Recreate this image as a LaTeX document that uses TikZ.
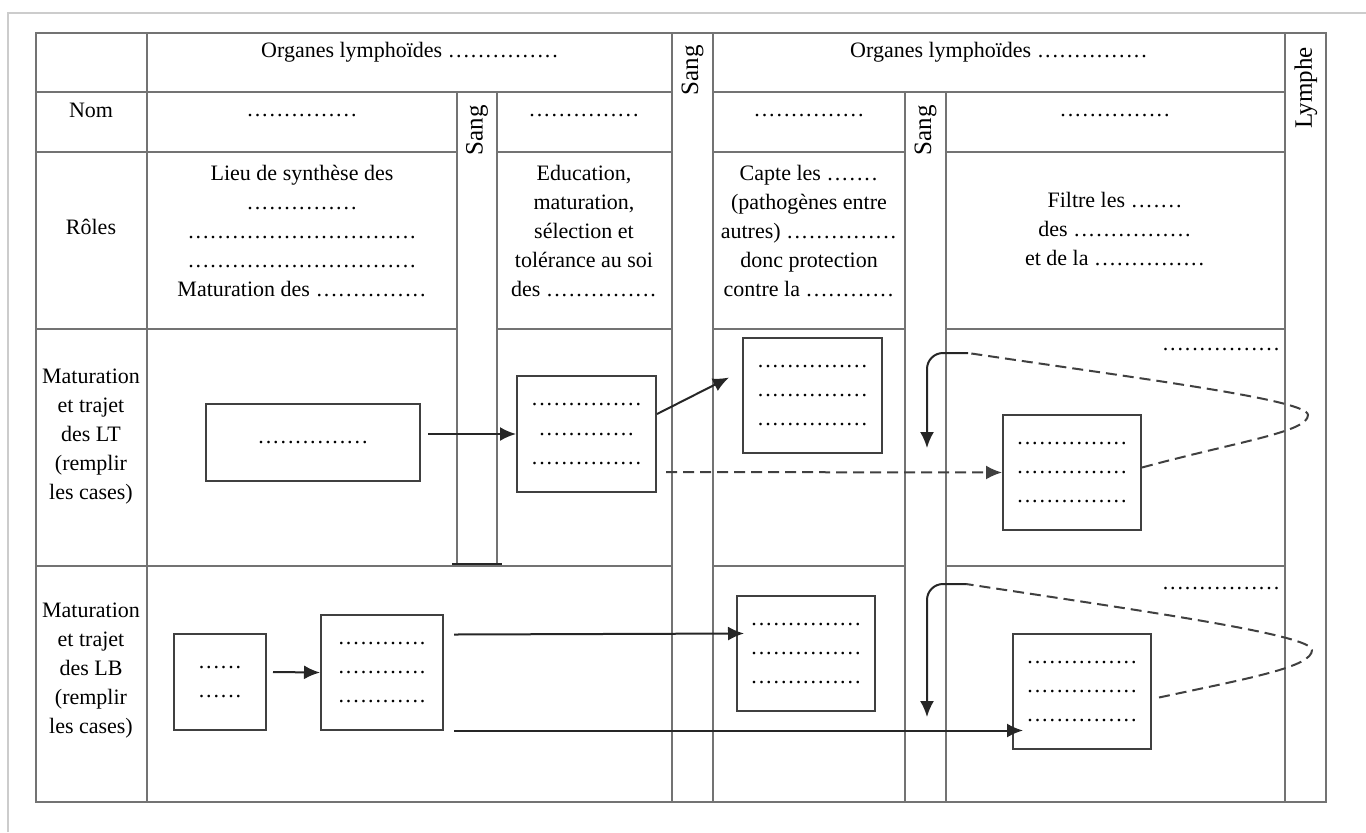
\documentclass[tikz,border=0pt]{standalone}
\usepackage{fontspec}
\setmainfont{Liberation Serif}
\usetikzlibrary{arrows.meta}
\newcommand{\pts}[1]{\foreach\i in {1,...,#1}{\makebox[3.7pt]{.}}}

\begin{document}
\begin{tikzpicture}[x=0.5pt,y=-0.5pt,
    font=\fontsize{11}{14.5}\selectfont,
    trait/.style={draw=black!55, line width=0.75pt},
    case/.style={draw=black!75, line width=1pt, inner sep=0pt, align=center},
    fleche/.style={-{Latex[length=8pt,width=7pt]}, draw=black!85, line width=1pt},
    pointille/.style={draw=black!75, line width=1pt, dash pattern=on 5.5pt off 3pt},
    vertical/.style={rotate=90, font=\fontsize{12.5}{15}\selectfont}]
    \useasboundingbox (0,0) rectangle (1366,832);
    \draw[black!20, line width=0.8pt] (8,832) -- (8,13) -- (1366,13);
    % grille du tableau
    \draw[trait] (36,33) rectangle (1326,802);
    \draw[trait] (147,33) -- (147,802);
    \draw[trait] (672,33) -- (672,802);
    \draw[trait] (713,33) -- (713,802);
    \draw[trait] (1285,33) -- (1285,802);
    \draw[trait] (457,92) -- (457,564);
    \draw[trait] (497,92) -- (497,564);
    \draw[trait] (905,92) -- (905,802);
    \draw[trait] (946,92) -- (946,802);
    \draw[black!85, line width=1pt] (452,564) -- (502,564);
    \draw[trait] (36,92) -- (672,92);
    \draw[trait] (713,92) -- (1285,92);
    \draw[trait] (36,152) -- (457,152);
    \draw[trait] (497,152) -- (672,152);
    \draw[trait] (713,152) -- (905,152);
    \draw[trait] (946,152) -- (1285,152);
    \draw[trait] (36,329) -- (457,329);
    \draw[trait] (497,329) -- (672,329);
    \draw[trait] (713,329) -- (905,329);
    \draw[trait] (946,329) -- (1285,329);
    \draw[trait] (36,566) -- (672,566);
    \draw[trait] (713,566) -- (905,566);
    \draw[trait] (946,566) -- (1285,566);
    % titres
    \node (titre1) at (410,52) {Organes lymphoïdes \pts{15}};
    \node (titre2) at (999,52) {Organes lymphoïdes \pts{15}};
    \node[vertical] (sang1) at (692.5,70) {Sang};
    \node[vertical] (sang2) at (477,130) {Sang};
    \node[vertical] (sang3) at (925.5,130) {Sang};
    \node[vertical] (lymphe) at (1306,88) {Lymphe};
    \node (nom) at (91,110) {Nom};
    \node (roles) at (91,227) {Rôles};
    \node[align=center] (lignesLT) at (91,437) {Maturation\\et trajet\\des LT\\(remplir\\les cases)};
    \node[align=center] (lignesLB) at (91,671) {Maturation\\et trajet\\des LB\\(remplir\\les cases)};
    \node (nom1) at (302,116) {\pts{15}};
    \node (nom2) at (584,116) {\pts{15}};
    \node (nom3) at (809,116) {\pts{15}};
    \node (nom4) at (1115,116) {\pts{15}};
    \node[align=center] (role1) at (302,231) {Lieu de synthèse des\\\pts{15}\\\pts{31}\\\pts{31}\\Maturation des \pts{15}};
    \node[align=center] (role2) at (584,231) {Education,\\maturation,\\sélection et\\tolérance au soi\\des \pts{15}};
    \node[align=center] (role3) at (809,231) {Capte les \pts{7}\\(pathogènes entre\\autres) \pts{15}\\donc protection\\contre la \pts{12}};
    \node[align=center] (role4) at (1115,229) {Filtre les \pts{7}\\des \pts{16}\\et de la \pts{15}};
    \node (noteLT) at (1221,349) {\pts{16}};
    \node (noteLB) at (1221,588) {\pts{16}};
    % cases LT
    \node[case, minimum width=107pt, minimum height=38.5pt] (lt1) at (313,442.5) {\pts{15}};
    \node[case, minimum width=69.5pt, minimum height=58pt] (lt2) at (586.5,434) {\pts{15}\\\pts{13}\\\pts{15}};
    \node[case, minimum width=69.5pt, minimum height=57.5pt] (lt3) at (812.5,395.5) {\pts{15}\\\pts{15}\\\pts{15}};
    \node[case, minimum width=69pt, minimum height=57.5pt] (lt4) at (1072,472.5) {\pts{15}\\\pts{15}\\\pts{15}};
    % cases LB
    \node[case, minimum width=46pt, minimum height=48pt] (lb1) at (220,682) {\pts{6}\\\pts{6}};
    \node[case, minimum width=61pt, minimum height=57.5pt] (lb2) at (382,672.5) {\pts{12}\\\pts{12}\\\pts{12}};
    \node[case, minimum width=69pt, minimum height=57.5pt] (lb3) at (806,653.5) {\pts{15}\\\pts{15}\\\pts{15}};
    \node[case, minimum width=69pt, minimum height=57.5pt] (lb4) at (1082,691.5) {\pts{15}\\\pts{15}\\\pts{15}};
    % trajets LT
    \draw[fleche] ([xshift=3.5pt,yshift=4.25pt]lt1.east) -- (lt2.west);
    \draw[fleche] ([yshift=10pt]lt2.east) -- ([xshift=-6.5pt,yshift=9pt]lt3.west);
    \draw[fleche, pointille] ([xshift=4.5pt,yshift=-19pt]lt2.east) -- (lt4.west);
    \coordinate (retourLT) at (968,353);
    \coordinate (pointeLT) at (927,448);
    \draw[pointille] ([yshift=2.5pt]lt4.east) .. controls (1240,441) and (1308,432) .. (1308,415)
        .. controls (1308,400) and (1150,380) .. (retourLT);
    \draw[fleche, rounded corners=8pt] (retourLT) -| (pointeLT);
    % trajets LB
    \draw[fleche] ([xshift=3pt,yshift=5pt]lb1.east) -- (lb2.west);
    \draw[fleche] ([xshift=5pt,yshift=19pt]lb2.east) -- ([xshift=4pt,yshift=10pt]lb3.west);
    \draw[fleche] ([xshift=5pt,yshift=-29pt]lb2.east) -- ([xshift=5.5pt,yshift=-19.5pt]lb4.west);
    \coordinate (retourLB) at (966,584);
    \coordinate (pointeLB) at (927,717);
    \draw[pointille] ([xshift=3.5pt,yshift=-3pt]lb4.east) .. controls (1250,678) and (1312,667) .. (1312,650)
        .. controls (1312,635) and (1150,612) .. (retourLB);
    \draw[fleche, rounded corners=8pt] (retourLB) -| (pointeLB);
\end{tikzpicture}
\end{document}
